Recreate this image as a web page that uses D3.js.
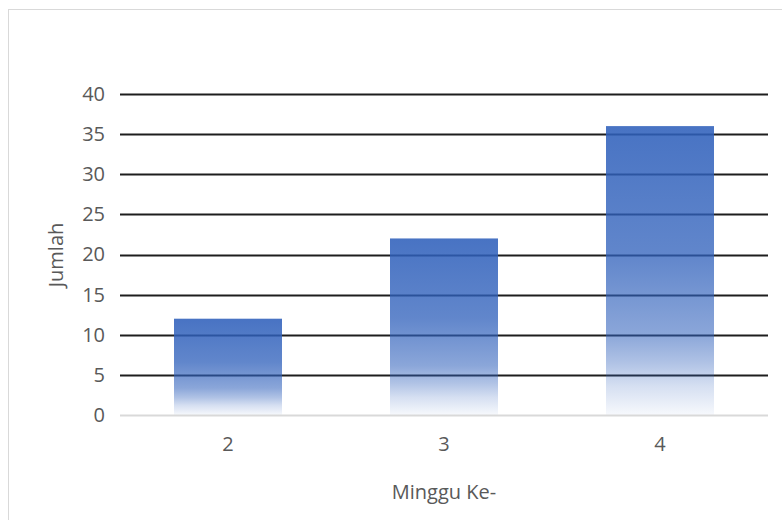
<!DOCTYPE html>
<html>
<head>
<meta charset="utf-8">
<script src="https://cdn.jsdelivr.net/npm/d3@7/dist/d3.min.js"></script>
<style>
  html, body { margin: 0; padding: 0; background: #fff; }
  svg { display: block; }
  text { font-family: "Open Sans", "Noto Sans", sans-serif; fill: #595959; }
</style>
</head>
<body>
<script>
const categories = ["2", "3", "4"];
const values = [12, 22, 36];
const yTicks = [0, 5, 10, 15, 20, 25, 30, 35, 40];
const xTitle = "Minggu Ke-";
const yTitle = "Jumlah";

const W = 782, H = 520;
const FS = 20;
const svg = d3.select("body").append("svg").attr("width", W).attr("height", H);

// chart frame
svg.append("rect").attr("x", 8.5).attr("y", 9.5).attr("width", W + 20).attr("height", H + 20)
  .attr("fill", "#fff").attr("stroke", "#d9d9d9").attr("stroke-width", 1);

const x = d3.scaleBand().domain(categories).range([120, 768]).paddingInner(0.5).paddingOuter(0.25);
const y = d3.scaleLinear().domain([0, 40]).range([415, 94]);

// gradient
const defs = svg.append("defs");
const grad = defs.append("linearGradient").attr("id", "barGrad")
  .attr("x1", 0).attr("y1", 0).attr("x2", 0).attr("y2", 1);
[[0, 0.88], [0.45, 0.76], [0.72, 0.56], [0.82, 0.38], [0.9, 0.2], [1, 0.04]].forEach(([o, a]) => {
  grad.append("stop").attr("offset", o).attr("stop-color", "#2f60bb").attr("stop-opacity", a);
});

// gridlines
const grid = svg.append("g");
grid.selectAll("line").data(yTicks.filter(d => d > 0)).join("line")
  .attr("x1", 120).attr("x2", 768)
  .attr("y1", d => Math.round(y(d)) + 0.5).attr("y2", d => Math.round(y(d)) + 0.5)
  .attr("stroke", "#1e1e1e").attr("stroke-width", 2);

// bars
svg.append("g").selectAll("rect").data(values).join("rect")
  .attr("x", (d, i) => x(categories[i]))
  .attr("width", x.bandwidth())
  .attr("y", d => y(d))
  .attr("height", d => y(0) - y(d))
  .attr("fill", "url(#barGrad)");

// baseline
svg.append("line").attr("x1", 120).attr("x2", 768)
  .attr("y1", y(0) + 0.5).attr("y2", y(0) + 0.5)
  .attr("stroke", "#d9d9d9").attr("stroke-width", 2);

// y axis labels
const yAxis = d3.axisLeft(y).tickValues(yTicks).tickSize(0).tickPadding(0);
const gy = svg.append("g").attr("transform", "translate(105,0)").call(yAxis);
gy.select(".domain").remove();
gy.selectAll("text").attr("font-size", FS).style("font-family", "'Open Sans', sans-serif").attr("fill", "#595959");

// x axis labels
const xAxis = d3.axisBottom(x).tickSize(0).tickPadding(0);
const gx = svg.append("g").attr("transform", "translate(0,437)").call(xAxis);
gx.select(".domain").remove();
gx.selectAll("text").attr("font-size", FS).style("font-family", "'Open Sans', sans-serif").attr("fill", "#595959");

// titles
svg.append("text").attr("x", 444).attr("y", 499).attr("text-anchor", "middle")
  .attr("font-size", FS).text(xTitle);
svg.append("text").attr("transform", "translate(63,255) rotate(-90)").attr("text-anchor", "middle")
  .attr("font-size", FS).text(yTitle);
</script>
</body>
</html>
